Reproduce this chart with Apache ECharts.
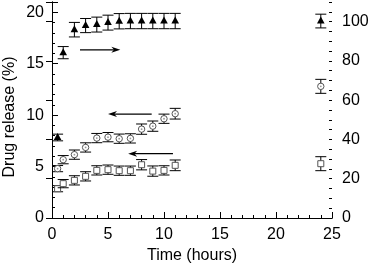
<!DOCTYPE html>
<html><head><meta charset="utf-8">
<script src="https://cdn.jsdelivr.net/npm/echarts@6/dist/echarts.min.js"></script>
<style>html,body{margin:0;padding:0;background:#fff}#c{width:370px;height:265px}</style>
</head><body><div id="c"></div>
<script>
// time points (hours)
var triTime = [0.5,1,2,3,4,5,6,7,8,9,10,11,24];
var triValue = [41,84.2,95.9,98,98.5,99.5,100.2,100.3,100.3,100.3,100.3,100.3,100.3]; // right axis (%)
var triErr = [1.7,3.1,3.7,3.6,3.8,3.8,3.9,3.9,3.9,3.9,3.9,3.9,3.5];

var circTime = [0.5,1,2,3,4,5,6,7,8,9,10,11,24];
var circValue = [4.8,5.67,6.16,6.86,7.77,7.86,7.71,7.74,8.64,8.93,9.65,10.14,12.8]; // left axis (%)
var circErr = [0.3,0.4,0.45,0.45,0.45,0.45,0.45,0.45,0.5,0.5,0.45,0.52,0.68];

var sqTime = [0.5,1,2,3,4,5,6,7,8,9,10,11,24];
var sqValue = [2.85,3.34,3.66,4.05,4.63,4.7,4.6,4.6,5.18,4.56,4.63,5.12,5.28]; // left axis (%)
var sqErr = [0.3,0.4,0.45,0.45,0.45,0.45,0.45,0.45,0.5,0.5,0.45,0.52,0.68];

// arrows: [tailX, tailY, headX, headY] in left-axis data units
var arrows = [[2.5,16.35,6.1,16.35],[8.9,10.1,5.0,10.1],[10.8,6.25,6.8,6.25]];

var leftTicks = [0,5,10,15,20];
var rightTicks = [0,20,40,60,80,100];
var xTitle = 'Time (hours)';
var yTitle = 'Drug release (%)';

function zip(t,v,e){return t.map(function(x,i){return [x,v[i],e[i]];});}

function errRender(kind){
  return function(params, api){
    var x=api.value(0), y=api.value(1), e=api.value(2);
    var c=api.coord([x,y]), tp=api.coord([x,y+e]), bt=api.coord([x,y-e]);
    var cw=5.5, ls={stroke:'#000',lineWidth:1};
    var ch=[
      {type:'line',shape:{x1:c[0],y1:tp[1],x2:c[0],y2:bt[1]},style:ls},
      {type:'line',shape:{x1:c[0]-cw,y1:tp[1],x2:c[0]+cw,y2:tp[1]},style:ls},
      {type:'line',shape:{x1:c[0]-cw,y1:bt[1],x2:c[0]+cw,y2:bt[1]},style:ls}
    ];
    if(kind==='tri'){
      ch.push({type:'polygon',shape:{points:[[c[0],c[1]-4.5],[c[0]-3.8,c[1]+2.5],[c[0]+3.8,c[1]+2.5]]},style:{fill:'#000'}});
    } else if(kind==='circ'){
      ch.push({type:'circle',shape:{cx:c[0],cy:c[1],r:3.2},style:{fill:'#fff',stroke:'#555',lineWidth:1}});
      ch.push({type:'circle',shape:{cx:c[0],cy:c[1],r:0.9},style:{fill:'#999'}});
    } else {
      ch.push({type:'rect',shape:{x:c[0]-3,y:c[1]-3,width:6,height:6},style:{fill:'#fff',stroke:'#555',lineWidth:1}});
    }
    return {type:'group',children:ch};
  };
}

function arrowRender(params, api){
  var a=api.coord([api.value(0),api.value(1)]), b=api.coord([api.value(2),api.value(3)]);
  var dir = b[0]>a[0]?1:-1, L=9, W=3;
  return {type:'group',children:[
    {type:'line',shape:{x1:a[0],y1:a[1],x2:b[0]-dir*L*0.6,y2:b[1]},style:{stroke:'#000',lineWidth:1.2}},
    {type:'polygon',shape:{points:[[b[0],b[1]],[b[0]-dir*L,b[1]-W],[b[0]-dir*L*0.7,b[1]],[b[0]-dir*L,b[1]+W]]},style:{fill:'#000'}}
  ]};
}

var font = 'Liberation Sans, Arial, sans-serif';
var axLine = {show:true,lineStyle:{color:'#000',width:1}};
var chart = echarts.init(document.getElementById('c'));
chart.setOption({
  animation:false,
  grid:{left:52,right:38,top:2,bottom:47,containLabel:false,outerBoundsMode:'none'},
  graphic:[
    {type:'text',left:2,top:'middle',rotation:Math.PI/2,x:0,y:0,
     style:{text:yTitle,fontSize:16,fill:'#000',fontFamily:font},silent:true,
     position:[2,0],origin:[0,0],
     $action:'replace'}
  ],
  xAxis:[
    {type:'value',position:'bottom',min:0,max:25,interval:5,axisLine:axLine,
     axisTick:{inside:true,length:6,lineStyle:{color:'#000'}},
     minorTick:{show:true,splitNumber:5,length:3,lineStyle:{color:'#000'}},
     splitLine:{show:false},
     axisLabel:{fontSize:16,color:'#000',fontFamily:font,margin:9},
     name:xTitle,nameLocation:'middle',nameGap:28,nameTextStyle:{fontSize:16,color:'#000',fontFamily:font}},
    {type:'value',position:'top',min:0,max:25,axisLine:axLine,axisTick:{show:false},axisLabel:{show:false},splitLine:{show:false}}
  ],
  yAxis:[
    {type:'value',position:'left',min:0,max:21,interval:5,axisLine:axLine,
     axisTick:{inside:true,length:6,lineStyle:{color:'#000'}},
     splitLine:{show:false},
     axisLabel:{fontSize:16,color:'#000',fontFamily:font,margin:8,
       formatter:function(v){return leftTicks.indexOf(v)>=0?String(v):'';}}},
    {type:'value',position:'right',min:0,max:110,interval:20,axisLine:axLine,
     axisTick:{inside:true,length:6,lineStyle:{color:'#000'}},
     splitLine:{show:false},
     axisLabel:{fontSize:16,color:'#000',fontFamily:font,margin:10,
       formatter:function(v){return rightTicks.indexOf(v)>=0?String(v):'';}}},
    {type:'value',position:'left',min:0,max:21,interval:1,axisLine:{show:false},
     axisTick:{inside:true,length:3,lineStyle:{color:'#000'}},axisLabel:{show:false},splitLine:{show:false}},
    {type:'value',position:'right',min:0,max:110,interval:5,axisLine:{show:false},
     axisTick:{inside:true,length:3,lineStyle:{color:'#000'}},axisLabel:{show:false},splitLine:{show:false}}
  ],
  series:[
    {type:'custom',yAxisIndex:1,renderItem:errRender('tri'),data:zip(triTime,triValue,triErr),z:3},
    {type:'custom',yAxisIndex:0,renderItem:errRender('circ'),data:zip(circTime,circValue,circErr),z:3},
    {type:'custom',yAxisIndex:0,renderItem:errRender('sq'),data:zip(sqTime,sqValue,sqErr),z:3},
    {type:'custom',yAxisIndex:0,renderItem:arrowRender,data:arrows,z:4}
  ]
});
// place the rotated y-axis title centred at (10, 117)
chart.setOption({graphic:[{type:'text',id:'yt',rotation:Math.PI/2,x:10,y:117,
  style:{text:yTitle,fontSize:16,fill:'#000',fontFamily:font,align:'center',verticalAlign:'middle'},silent:true}]},
  {replaceMerge:['graphic']});
</script></body></html>
